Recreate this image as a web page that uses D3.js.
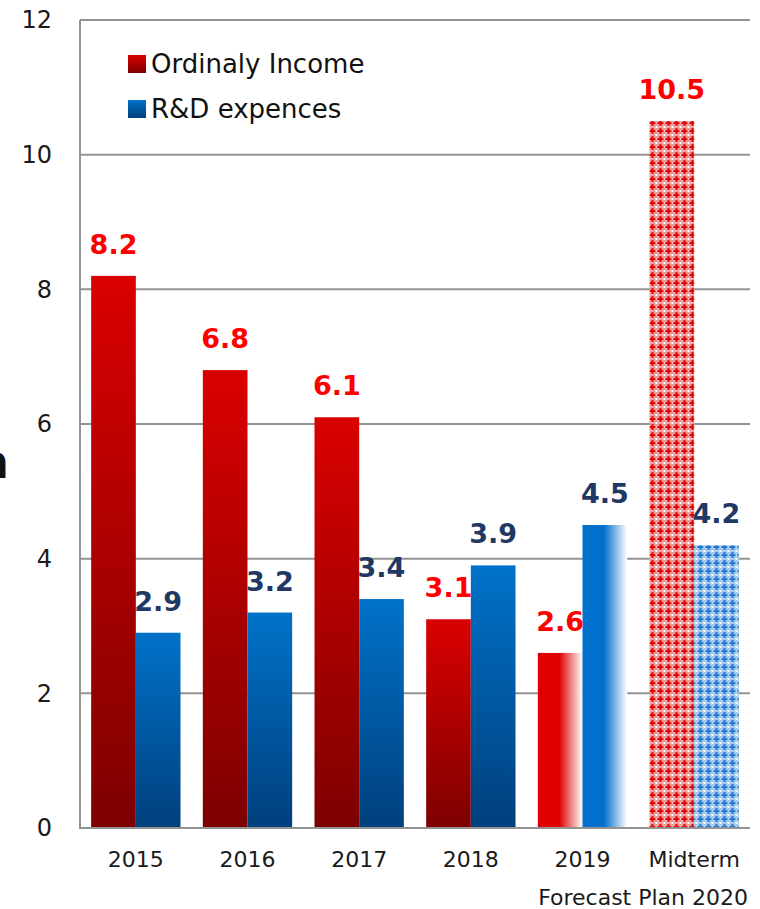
<!DOCTYPE html>
<html>
<head>
<meta charset="utf-8">
<script src="https://cdn.jsdelivr.net/npm/d3@7"></script>
<style>
  html, body { margin: 0; padding: 0; background: #fff; }
  svg { display: block; }
  text { font-family: "DejaVu Sans", Verdana, sans-serif; }
</style>
</head>
<body>
<svg id="chart" width="760" height="909"></svg>
<script>
// Ordinary income and R&D expenses by fiscal year (billion yen)
const categories = ["2015", "2016", "2017", "2018", "2019", "Midterm"];
const ordinaryIncome = [8.2, 6.8, 6.1, 3.1, 2.6, 10.5];
const rdExpenses = [2.9, 3.2, 3.4, 3.9, 4.5, 4.2];
const seriesNames = ["Ordinaly Income", "R&D expences"];
const yTicks = [0, 2, 4, 6, 8, 10, 12];
const subLabel = "Forecast Plan 2020";

(function draw() {
  const svg = d3.select("#chart");
  const W = 760, H = 909;
  const plotL = 80, plotR = 750, plotT = 20, plotB = 828;

  svg.append("rect").attr("width", W).attr("height", H).attr("fill", "#fff");

  const x0 = d3.scaleBand().domain(categories).range([plotL, plotR])
    .paddingInner(0.2).paddingOuter(0.1);
  const x1 = d3.scaleBand().domain([0, 1]).range([0, x0.bandwidth()]).padding(0);
  const y = d3.scaleLinear().domain([0, 12]).range([plotB, plotT]);

  // ---- paint definitions ----
  const defs = svg.append("defs");
  function vGrad(id, c0, c1) {
    const g = defs.append("linearGradient").attr("id", id)
      .attr("x1", 0).attr("y1", 0).attr("x2", 0).attr("y2", 1);
    g.append("stop").attr("offset", "0%").attr("stop-color", c0);
    g.append("stop").attr("offset", "100%").attr("stop-color", c1);
  }
  function hFade(id, c) {
    const g = defs.append("linearGradient").attr("id", id)
      .attr("x1", 0).attr("y1", 0).attr("x2", 1).attr("y2", 0);
    g.append("stop").attr("offset", "0%").attr("stop-color", c);
    g.append("stop").attr("offset", "48%").attr("stop-color", c);
    g.append("stop").attr("offset", "100%").attr("stop-color", "#ffffff");
  }
  // small cross lattice used for the forecast bars
  function hatch(id, bg, fg) {
    const p = defs.append("pattern").attr("id", id)
      .attr("patternUnits", "userSpaceOnUse").attr("width", 8).attr("height", 8);
    p.append("rect").attr("width", 8).attr("height", 8).attr("fill", bg);
    p.append("rect").attr("x", 2).attr("y", 0).attr("width", 2).attr("height", 6).attr("fill", fg);
    p.append("rect").attr("x", 0).attr("y", 2).attr("width", 6).attr("height", 2).attr("fill", fg);
    p.append("rect").attr("x", 6).attr("y", 6).attr("width", 2).attr("height", 2).attr("fill", "#ffffff");
    p.append("rect").attr("x", 6).attr("y", 2).attr("width", 1).attr("height", 1).attr("fill", "#ffffff");
    p.append("rect").attr("x", 2).attr("y", 6).attr("width", 1).attr("height", 1).attr("fill", "#ffffff");
  }
  vGrad("gRed", "#da0000", "#7d0000");
  vGrad("gBlue", "#0072c9", "#003f7c");
  hFade("fRed", "#e00000");
  hFade("fBlue", "#0070cc");
  hatch("pRed", "#ee9a9a", "#dc0a0a");
  hatch("pBlue", "#a2c9ee", "#2279cf");

  function fillFor(series, cat) {
    if (cat === "2019") return series === 0 ? "url(#fRed)" : "url(#fBlue)";
    if (cat === "Midterm") return series === 0 ? "url(#pRed)" : "url(#pBlue)";
    return series === 0 ? "url(#gRed)" : "url(#gBlue)";
  }

  // ---- gridlines ----
  const gridColor = "#939393";
  svg.append("g").selectAll("line").data(yTicks.filter(t => t > 0)).join("line")
    .attr("x1", plotL).attr("x2", plotR)
    .attr("y1", d => y(d)).attr("y2", d => y(d))
    .attr("stroke", gridColor).attr("stroke-width", 2);

  // ---- bars ----
  const rows = categories.map((c, i) => ({ cat: c, vals: [ordinaryIncome[i], rdExpenses[i]] }));
  const groups = svg.append("g").selectAll("g").data(rows).join("g")
    .attr("transform", d => `translate(${x0(d.cat)},0)`);
  groups.selectAll("rect").data(d => d.vals.map((v, s) => ({ v, s, cat: d.cat }))).join("rect")
    .attr("x", d => x1(d.s))
    .attr("y", d => y(d.v))
    .attr("width", x1.bandwidth())
    .attr("height", d => y(0) - y(d.v))
    .attr("fill", d => fillFor(d.s, d.cat));

  // ---- axis lines ----
  svg.append("line").attr("x1", plotL).attr("x2", plotR).attr("y1", plotB).attr("y2", plotB)
    .attr("stroke", gridColor).attr("stroke-width", 2);
  svg.append("line").attr("x1", plotL).attr("x2", plotL).attr("y1", plotT).attr("y2", plotB + 1)
    .attr("stroke", gridColor).attr("stroke-width", 2);

  // ---- y axis labels ----
  const yAxis = svg.append("g").attr("transform", `translate(${plotL},0)`)
    .call(d3.axisLeft(y).tickValues(yTicks).tickSize(0).tickPadding(28).tickFormat(d3.format("d")));
  yAxis.select(".domain").remove();
  yAxis.selectAll("text").attr("font-size", 24).attr("fill", "#1a1a1a")
    .attr("font-family", "'DejaVu Sans', Verdana, sans-serif");

  // ---- x axis labels ----
  const xAxis = svg.append("g").attr("transform", `translate(0,${plotB})`)
    .call(d3.axisBottom(x0).tickSize(0).tickPadding(23));
  xAxis.select(".domain").remove();
  xAxis.selectAll("text").attr("font-size", 22).attr("fill", "#1a1a1a")
    .attr("font-family", "'DejaVu Sans', Verdana, sans-serif");
  svg.append("text").attr("x", 748).attr("y", 905).attr("text-anchor", "end")
    .attr("font-size", 22).attr("fill", "#1a1a1a").text(subLabel);

  // ---- value labels ----
  const labelColors = ["#ff0000", "#1f3864"];
  groups.selectAll("text.val").data(d => d.vals.map((v, s) => ({ v, s }))).join("text")
    .attr("class", "val")
    .attr("x", d => x1(d.s) + x1.bandwidth() / 2)
    .attr("y", d => y(d.v) - 22)
    .attr("text-anchor", "middle")
    .attr("font-size", 27).attr("font-weight", "bold")
    .attr("fill", d => labelColors[d.s])
    .text(d => d3.format(".1f")(d.v));

  // ---- legend ----
  const legend = svg.append("g");
  seriesNames.forEach((name, i) => {
    const ly = 55 + i * 45;
    legend.append("rect").attr("x", 128).attr("y", ly).attr("width", 18).attr("height", 18)
      .attr("fill", i === 0 ? "url(#gRed)" : "url(#gBlue)");
    legend.append("text").attr("x", 151).attr("y", ly + 18).attr("font-size", 26)
      .attr("fill", "#111").text(name);
  });

  // ---- unit title (runs off the left edge) ----
  svg.append("text").attr("x", 9).attr("y", 478).attr("text-anchor", "end")
    .attr("font-size", 46).attr("font-weight", "bold").attr("fill", "#111").text("n");
})();
</script>
</body>
</html>
